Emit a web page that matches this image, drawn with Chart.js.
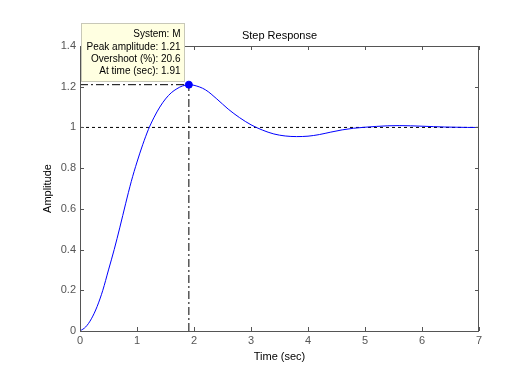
<!DOCTYPE html>
<html>
<head>
<meta charset="utf-8">
<script src="https://cdn.jsdelivr.net/npm/chart.js@4"></script>
<style>
  html, body { margin: 0; padding: 0; background: #fff; }
  #wrap { width: 529px; height: 372px; }
</style>
</head>
<body>
<div id="wrap"><canvas id="step" width="529" height="372"></canvas></div>
<script>
// step response
const times = [0, 0.1, 0.2, 0.3, 0.4, 0.5, 0.6, 0.7, 0.8, 0.9, 1.0, 1.1, 1.2, 1.3, 1.4, 1.5, 1.6, 1.7, 1.8, 1.91,
  2.0, 2.2, 2.4, 2.6, 2.8, 3.0, 3.2, 3.4, 3.6, 3.8, 4.0, 4.2, 4.4, 4.6, 4.8, 5.0, 5.2, 5.4, 5.6, 5.8, 6.0, 6.2, 6.4, 6.6, 6.8, 7.0];
const amplitude = [0, 0.02, 0.06, 0.12, 0.20, 0.30, 0.40, 0.51, 0.625, 0.735, 0.83, 0.915, 0.99, 1.05, 1.10, 1.14, 1.17, 1.19, 1.204, 1.21,
  1.207, 1.185, 1.14, 1.09, 1.048, 1.013, 0.987, 0.968, 0.958, 0.955, 0.957, 0.965, 0.977, 0.988, 0.996, 1.001, 1.005, 1.008, 1.009, 1.008, 1.006, 1.004, 1.002, 1.001, 1.0, 1.0];

const finalValue = 1;
const peakTime = 1.91;
const peakAmp = 1.21;
const overshoot = 20.6;
const xTicks = [0, 1, 2, 3, 4, 5, 6, 7];
const yTicks = [0, 0.2, 0.4, 0.6, 0.8, 1, 1.2, 1.4];
const boxLines = ['System: M', 'Peak amplitude: ' + peakAmp, 'Overshoot (%): ' + overshoot, 'At time (sec): ' + peakTime];

const family = '"Liberation Sans", Arial, sans-serif';

const decor = {
  id: 'decor',
  beforeDraw(chart) {
    const c = chart.ctx;
    c.save();
    c.fillStyle = '#fff';
    c.fillRect(0, 0, chart.width, chart.height);
    c.restore();
  },
  afterDatasetsDraw(chart) {
    const c = chart.ctx, a = chart.chartArea;
    const xs = chart.scales.x, ys = chart.scales.y;
    c.save();
    // frame
    c.strokeStyle = '#555';
    c.lineWidth = 1;
    c.strokeRect(a.left + 0.5, a.top + 0.5, a.right - a.left - 1, a.bottom - a.top);
    // inner ticks
    c.beginPath();
    xTicks.forEach(v => {
      const x = Math.round(xs.getPixelForValue(v)) + 0.5;
      c.moveTo(x, a.bottom); c.lineTo(x, a.bottom - 4);
      c.moveTo(x, a.top); c.lineTo(x, a.top + 4);
    });
    yTicks.forEach(v => {
      const y = Math.round(ys.getPixelForValue(v)) + 0.5;
      c.moveTo(a.left, y); c.lineTo(a.left + 4, y);
      c.moveTo(a.right, y); c.lineTo(a.right - 4, y);
    });
    c.stroke();

    // titles
    c.fillStyle = '#000';
    c.font = '11px ' + family;
    c.textAlign = 'center';
    c.textBaseline = 'middle';
    c.fillText('Step Response', (a.left + a.right) / 2, 36);
    c.fillText('Time (sec)', (a.left + a.right) / 2, 357);
    c.save();
    c.translate(48, (a.top + a.bottom) / 2);
    c.rotate(-Math.PI / 2);
    c.fillText('Amplitude', 0, 0);
    c.restore();

    // data tip box
    const bx = 81.5, by = 23.5, bw = 103, bh = 58;
    c.fillStyle = '#ffffe1';
    c.fillRect(bx, by, bw, bh);
    c.strokeStyle = '#c8c8b8';
    c.strokeRect(bx, by, bw, bh);
    c.fillStyle = '#000';
    c.font = '10px ' + family;
    c.textAlign = 'right';
    boxLines.forEach((t, i) => c.fillText(t, bx + bw - 4, by + 11 + i * 12.3));
    c.restore();
  }
};

new Chart(document.getElementById('step'), {
  type: 'line',
  data: {
    datasets: [
      {
        label: 'M',
        data: times.map((t, i) => ({ x: t, y: amplitude[i] })),
        borderColor: '#0000ff',
        borderWidth: 1,
        pointRadius: 0,
        cubicInterpolationMode: 'monotone',
        order: 1
      },
      {
        label: 'final',
        data: [{ x: 0, y: finalValue }, { x: 7, y: finalValue }],
        borderColor: '#000',
        borderWidth: 1,
        borderDash: [3, 3],
        pointRadius: 0,
        order: 2
      },
      {
        label: 'peak h',
        data: [{ x: 0, y: peakAmp }, { x: peakTime, y: peakAmp }],
        borderColor: '#000',
        borderWidth: 1,
        borderDash: [8, 3, 2, 3],
        pointRadius: 0,
        order: 2
      },
      {
        label: 'peak v',
        data: [{ x: peakTime, y: 0 }, { x: peakTime, y: peakAmp }],
        borderColor: '#000',
        borderWidth: 1,
        borderDash: [8, 3, 2, 3],
        pointRadius: 0,
        order: 2
      },
      {
        label: 'peak',
        data: [{ x: peakTime, y: peakAmp }],
        borderColor: '#0000ff',
        backgroundColor: '#0000ff',
        pointRadius: 3.5,
        showLine: false,
        order: 0
      }
    ]
  },
  options: {
    responsive: false,
    animation: false,
    layout: { padding: { top: 46, right: 50, left: 0, bottom: 0 } },
    plugins: { legend: { display: false }, tooltip: { enabled: false } },
    scales: {
      x: {
        type: 'linear',
        min: 0, max: 7,
        afterFit(s) { s.height = 41; },
        afterBuildTicks(s) { s.ticks = xTicks.map(v => ({ value: v })); },
        grid: { display: false, drawTicks: false },
        border: { display: false },
        ticks: { color: '#555', font: { family: family, size: 11 }, padding: 3, maxRotation: 0, callback: v => String(v) }
      },
      y: {
        type: 'linear',
        min: 0, max: 1.4,
        afterFit(s) { s.width = 80; },
        afterBuildTicks(s) { s.ticks = yTicks.map(v => ({ value: v })); },
        grid: { display: false, drawTicks: false },
        border: { display: false },
        ticks: { color: '#555', font: { family: family, size: 11 }, padding: 4, callback: v => String(Math.round(v * 10) / 10) }
      }
    }
  },
  plugins: [decor]
});
</script>
</body>
</html>
